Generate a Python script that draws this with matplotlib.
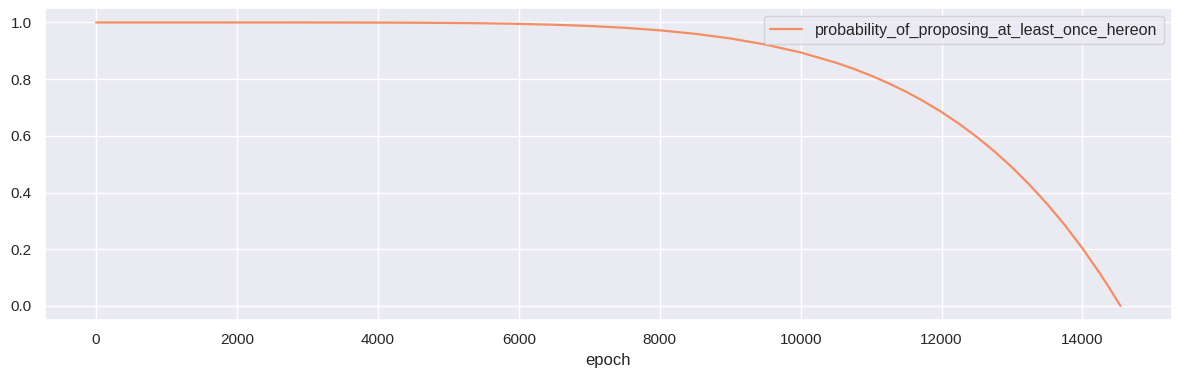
import matplotlib
matplotlib.use("Agg")
import matplotlib.pyplot as plt
import seaborn as sns

# values
epoch = [0, 1000, 2000, 3000, 4000, 4500, 5000, 5500, 6000, 6500, 7000, 7500,
         8000, 8500, 9000, 9500, 10000, 10500, 10750, 11000, 11250, 11500,
         11750, 12000, 12250, 12500, 12750, 13000, 13250, 13500, 13750, 14000,
         14250, 14400, 14540]
prob = [1.0, 1.0, 1.0, 0.9999, 0.9996, 0.9991, 0.9983, 0.9971, 0.9951, 0.9920,
        0.9876, 0.9812, 0.9723, 0.9601, 0.9438, 0.9222, 0.8942, 0.8582, 0.8367,
        0.8125, 0.7854, 0.7553, 0.7215, 0.6840, 0.6424, 0.5963, 0.5453, 0.4891,
        0.427, 0.3593, 0.285, 0.2031, 0.1138, 0.056, 0.0]
label = "probability_of_proposing_at_least_once_hereon"

sns.set_theme(style="darkgrid")
plt.rcParams['font.family'] = ['Liberation Sans', 'DejaVu Sans']

fig, ax = plt.subplots(figsize=(11.8, 3.77), dpi=100)
fig.subplots_adjust(left=0.038, right=0.993, top=0.978, bottom=0.151)

ax.plot(epoch, prob, color="#f58d62", lw=1.6, label=label)
ax.set_xlabel("epoch", fontsize=12)
ax.tick_params(labelsize=11)
ax.legend(loc="upper right", fontsize=11.5)

fig.savefig("out.png", dpi=100)
